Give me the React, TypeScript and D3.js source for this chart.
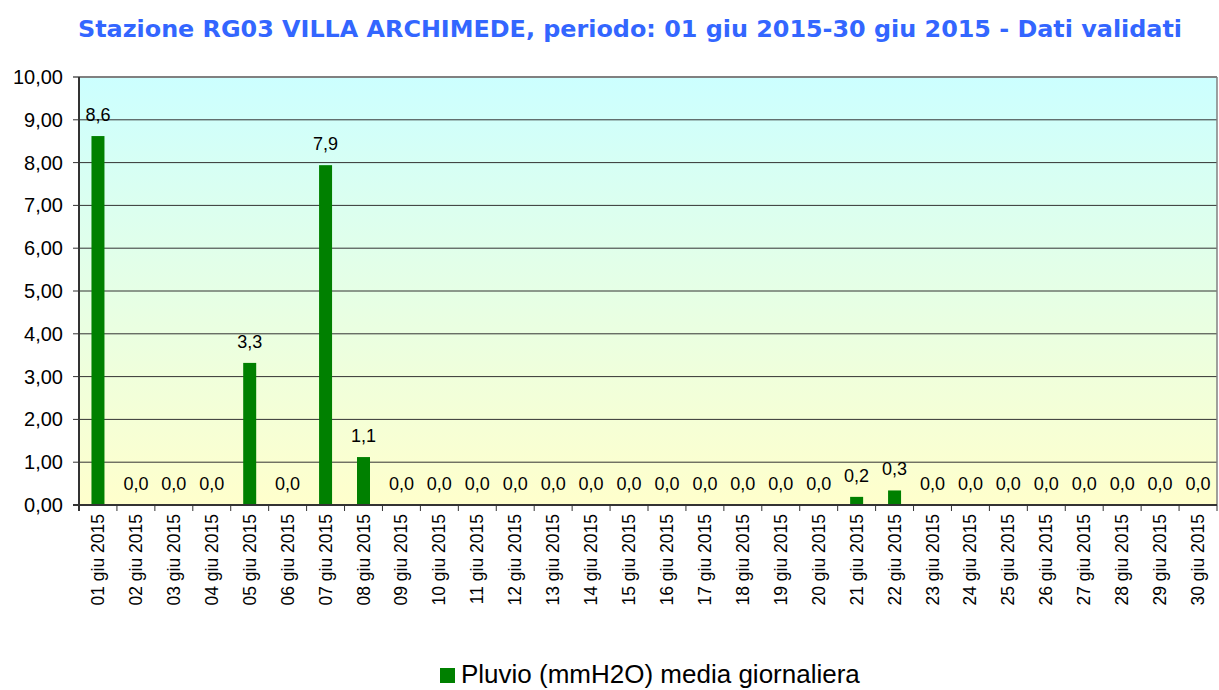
import React from 'react'
import * as d3 from 'd3'

const days = d3.range(1, 31).map((d) => `${d < 10 ? '0' + d : d} giu 2015`)
const rain = [
  8.62, 0, 0, 0, 3.32, 0, 7.94, 1.12, 0, 0, 0, 0, 0, 0, 0, 0, 0, 0, 0, 0, 0.19,
  0.34, 0, 0, 0, 0, 0, 0, 0, 0,
]
const yTicks = d3.range(0, 11)
const title = 'Stazione RG03 VILLA ARCHIMEDE, periodo: 01 giu 2015-30 giu 2015 - Dati validati'
const seriesName = 'Pluvio (mmH2O) media giornaliera'

const width = 1219
const height = 690
const margin = {top: 77, right: 2, bottom: 185, left: 79}

export default function App() {
  const x = d3
    .scaleBand()
    .domain(days)
    .range([margin.left, width - margin.right])
  const y = d3
    .scaleLinear()
    .domain([0, 10])
    .range([height - margin.bottom, margin.top])
  const fmt = (v: number) => v.toFixed(1).replace('.', ',')
  const barW = 13
  const y0 = y(0)

  return (
    <svg
      width={width}
      height={height}
      style={{position: 'absolute', left: 0, top: 0, fontFamily: 'Liberation Sans, Arial, sans-serif'}}
    >
      <defs>
        <linearGradient id="bg" x1="0" y1="0" x2="0" y2="1">
          <stop offset="0%" stopColor="#ccffff" />
          <stop offset="100%" stopColor="#ffffcc" />
        </linearGradient>
      </defs>
      <rect width={width} height={height} fill="#fff" />
      <text
        x={630}
        y={37}
        textAnchor="middle"
        fill="#3366ff"
        fontFamily="DejaVu Sans, Verdana, sans-serif"
        fontWeight="bold"
        fontSize={23.5}
        textLength={1104}
        lengthAdjust="spacingAndGlyphs"
      >
        {title}
      </text>
      <rect
        x={margin.left}
        y={margin.top}
        width={width - margin.left - margin.right}
        height={y0 - margin.top}
        fill="url(#bg)"
      />
      {yTicks.map((t) => (
        <g key={t}>
          <line
            x1={margin.left - 6}
            x2={width - margin.right}
            y1={y(t)}
            y2={y(t)}
            stroke={t === 10 ? '#808080' : '#333'}
            strokeWidth={t === 10 ? 2 : 1}
          />
          <text x={63} y={y(t) + 7} textAnchor="end" fontSize={20} fill="#000">
            {t.toFixed(2).replace('.', ',')}
          </text>
        </g>
      ))}
      <line
        x1={width - margin.right}
        x2={width - margin.right}
        y1={margin.top}
        y2={y0}
        stroke="#808080"
        strokeWidth={1.5}
      />
      {rain.map((v, i) => {
        const cx = (x(days[i]) as number) + x.bandwidth() / 2
        return (
          <g key={days[i]}>
            {v > 0 && (
              <rect x={cx - barW / 2} y={y(v)} width={barW} height={y0 - y(v)} fill="#008000" />
            )}
            <text x={cx} y={y(v) - 15} textAnchor="middle" fontSize={18} fill="#000">
              {fmt(v)}
            </text>
          </g>
        )
      })}
      <line x1={margin.left} x2={margin.left} y1={margin.top} y2={y0 + 6} stroke="#333" strokeWidth={2} />
      <line x1={margin.left - 6} x2={width - margin.right} y1={y0} y2={y0} stroke="#333" strokeWidth={2} />
      {days.map((d) => (
        <line
          key={'t' + d}
          x1={(x(d) as number) + x.bandwidth()}
          x2={(x(d) as number) + x.bandwidth()}
          y1={y0}
          y2={y0 + 6}
          stroke="#333"
        />
      ))}
      {days.map((d) => {
        const cx = (x(d) as number) + x.bandwidth() / 2
        return (
          <text
            key={'l' + d}
            transform={`translate(${cx + 6},${y0 + 9}) rotate(-90)`}
            textAnchor="end"
            fontSize={17.5}
            fill="#000"
          >
            {d}
          </text>
        )
      })}
      <rect x={440} y={668} width={15} height={15} fill="#008000" />
      <text x={461} y={683} fontSize={26} fill="#000">
        {seriesName}
      </text>
    </svg>
  )
}
